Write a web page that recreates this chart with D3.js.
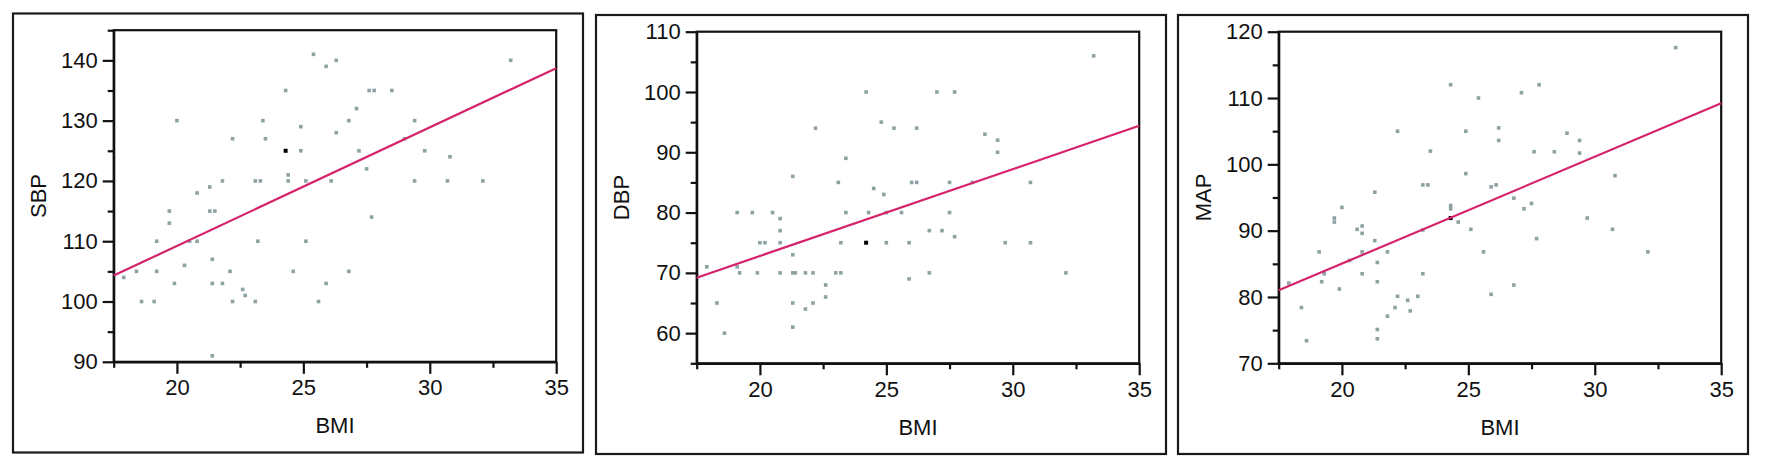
<!DOCTYPE html>
<html>
<head>
<meta charset="utf-8">
<script src="https://cdn.jsdelivr.net/npm/d3@7"></script>
<style>
  body { margin: 0; background: #fff; }
  svg { display: block; }
</style>
</head>
<body>
<div id="display"></div>
<script>
// x axis is BMI for all three panels
const bmiTicks = [20, 25, 30, 35]
const bmiMinor = [17.5, 22.5, 27.5, 32.5]

// SBP vs BMI
const sbpPoints = [[17.9,104],[18.4,105],[18.6,100],[19.1,100],[19.2,105],[19.2,110],[19.7,113],[19.7,115],
  [19.9,103],[20.0,130],[20.3,106],[20.5,110],[20.8,110],[20.8,118],[21.3,119],[21.3,115],[21.5,115],
  [21.4,103],[21.4,107],[21.4,91],[21.8,103],[21.8,120],[22.1,105],[22.2,100],[22.2,127],[22.6,102],
  [22.7,101],[23.1,100],[23.2,110],[23.1,120],[23.3,120],[23.4,130],[23.5,127],[24.3,135],[24.4,121],
  [24.4,120],[24.6,105],[24.9,129],[24.9,125],[25.1,120],[25.1,110],[25.4,141],[25.6,100],[25.9,139],
  [25.9,103],[26.1,120],[26.3,140],[26.3,128],[26.8,130],[26.8,105],[27.1,132],[27.2,125],[27.5,122],
  [27.6,135],[27.7,114],[27.8,135],[28.5,135],[29.0,127],[29.4,130],[29.4,120],[29.8,125],[30.7,120],
  [30.8,124],[32.1,120],[33.2,140]]
const sbpDark = [[24.3,125]]
const sbpFit = [[17.5,104.3],[35,138.7]]
const sbpTicks = [90, 100, 110, 120, 130, 140]
const sbpMinor = [95, 105, 115, 125, 135, 145]

// DBP vs BMI
const dbpPoints = [[17.9,71],[18.3,65],[18.6,60],[19.1,71],[19.2,70],[19.1,80],[19.7,80],[19.9,70],
  [20.0,75],[20.2,75],[20.5,80],[20.8,79],[20.8,77],[20.8,75],[20.8,70],[21.3,86],[21.3,73],[21.3,70],
  [21.4,70],[21.3,65],[21.3,61],[21.8,70],[21.8,64],[22.1,65],[22.1,70],[22.2,94],[22.6,68],[22.6,66],
  [23.0,70],[23.2,70],[23.2,75],[23.1,85],[23.4,89],[23.4,80],[24.2,100],[24.3,80],[24.5,84],[24.8,95],
  [24.9,83],[25.0,80],[25.0,75],[25.3,94],[25.6,80],[25.9,75],[25.9,69],[26.0,85],[26.2,85],[26.2,94],
  [26.7,77],[26.7,70],[27.0,100],[27.2,77],[27.5,85],[27.5,80],[27.7,100],[27.7,76],[28.4,85],[28.9,93],
  [29.4,92],[29.4,90],[29.7,75],[30.7,85],[30.7,75],[32.1,70],[33.2,106]]
const dbpDark = [[24.2,75]]
const dbpFit = [[17.5,69.2],[35,94.4]]
const dbpTicks = [60, 70, 80, 90, 100, 110]
const dbpMinor = [55, 65, 75, 85, 95, 105]

// MAP vs BMI
const mapPoints = [[17.9,82.1],[18.4,78.4],[18.6,73.4],[19.1,86.8],[19.2,82.3],[19.3,83.5],[19.7,91.9],
  [19.7,91.3],[19.9,81.2],[20.0,93.5],[20.3,85.5],[20.6,90.2],[20.8,90.7],[20.8,89.6],[20.8,86.8],
  [20.8,83.5],[21.3,95.8],[21.3,88.5],[21.4,85.2],[21.4,82.3],[21.4,75.1],[21.4,73.7],[21.8,86.8],
  [21.8,77.1],[22.1,78.4],[22.2,80.1],[22.2,105],[22.6,79.5],[22.7,77.9],[23.0,80.1],[23.2,83.5],
  [23.2,90.1],[23.2,96.9],[23.4,96.9],[23.5,102],[24.3,112],[24.3,93.3],[24.3,93.8],[24.6,91.3],
  [24.9,105],[24.9,98.6],[25.1,90.2],[25.4,110],[25.6,86.8],[25.9,96.6],[25.9,80.4],[26.1,96.9],
  [26.2,105.5],[26.2,103.6],[26.8,94.9],[26.8,81.8],[27.1,110.8],[27.2,93.3],[27.5,94.1],[27.6,101.9],
  [27.7,88.8],[27.8,112],[28.4,101.9],[28.9,104.7],[29.4,103.6],[29.4,101.7],[29.7,91.9],[30.7,90.2],
  [30.8,98.3],[32.1,86.8],[33.2,117.6]]
const mapDark = [[24.3,91.9]]
const mapFit = [[17.5,81.0],[35,109.2]]
const mapTicks = [70, 80, 90, 100, 110, 120]
const mapMinor = [75, 85, 95, 105, 115]

const width = 1772, height = 467
const font = "'Liberation Sans', Arial, sans-serif"

const panels = [
  {label: 'SBP', points: sbpPoints, dark: sbpDark, fit: sbpFit, ticks: sbpTicks, minor: sbpMinor, domain: [90, 145], left: 13, top: 13.5},
  {label: 'DBP', points: dbpPoints, dark: dbpDark, fit: dbpFit, ticks: dbpTicks, minor: dbpMinor, domain: [55, 110], left: 596, top: 15},
  {label: 'MAP', points: mapPoints, dark: mapDark, fit: mapFit, ticks: mapTicks, minor: mapMinor, domain: [70, 120], left: 1178, top: 15}
]

const svg = d3.select('#display').append('svg')
    .attr('width', width)
    .attr('height', height)

panels.forEach(p => {
    const g = svg.append('g')
    const x0 = p.left + 100.7, x1 = x0 + 442.5
    const y0 = p.top + 16.7, y1 = p.top + 348.3

    // outer frame
    g.append('rect')
        .attr('x', p.left).attr('y', p.top)
        .attr('width', 570).attr('height', 439)
        .attr('fill', 'none')
        .attr('stroke', '#1a1a1a')
        .attr('stroke-width', 2.2)

    const xScale = d3.scaleLinear().domain([17.5, 35]).range([x0, x1])
    const yScale = d3.scaleLinear().domain(p.domain).range([y1, y0])

    // plot box
    g.append('rect')
        .attr('x', x0).attr('y', y0)
        .attr('width', x1 - x0).attr('height', y1 - y0)
        .attr('fill', 'none')
        .attr('stroke', '#111')
        .attr('stroke-width', 2.2)

    // y axis, major + minor
    g.append('g')
        .attr('transform', 'translate(' + x0 + ',0)')
        .call(d3.axisLeft(yScale).tickValues(p.ticks).tickSize(11).tickPadding(5).tickSizeOuter(0))
    g.append('g')
        .attr('transform', 'translate(' + x0 + ',0)')
        .call(d3.axisLeft(yScale).tickValues(p.minor).tickSize(6).tickFormat('').tickSizeOuter(0))
        .call(a => a.select('.domain').remove())

    // x axis, major + minor
    g.append('g')
        .attr('transform', 'translate(0,' + y1 + ')')
        .call(d3.axisBottom(xScale).tickValues(bmiTicks).tickSize(12).tickPadding(6).tickSizeOuter(0))
    g.append('g')
        .attr('transform', 'translate(0,' + y1 + ')')
        .call(d3.axisBottom(xScale).tickValues(bmiMinor).tickSize(6).tickFormat('').tickSizeOuter(0))
        .call(a => a.select('.domain').remove())

    g.selectAll('.tick line').attr('stroke', '#111').attr('stroke-width', 2.2)
    g.selectAll('.domain').attr('stroke', '#111').attr('stroke-width', 2.2)
    g.selectAll('.tick text')
        .attr('fill', '#111')
        .style('font-family', font)
        .style('font-size', '22px')

    // axis titles
    g.append('text')
        .attr('x', (x0 + x1) / 2)
        .attr('y', p.top + 419.5)
        .attr('text-anchor', 'middle')
        .style('font-family', font)
        .style('font-size', '22px')
        .attr('fill', '#111')
        .text('BMI')

    g.append('text')
        .attr('transform', 'translate(' + (p.left + 33) + ',' + ((y0 + y1) / 2) + ') rotate(-90)')
        .attr('text-anchor', 'middle')
        .style('font-family', font)
        .style('font-size', '22px')
        .attr('fill', '#111')
        .text(p.label)

    // points
    g.selectAll('.pt').data(p.points)
        .enter()
        .append('rect')
            .attr('class', 'pt')
            .attr('x', d => xScale(d[0]) - 1.8)
            .attr('y', d => yScale(d[1]) - 1.8)
            .attr('width', 3.6)
            .attr('height', 3.6)
            .attr('fill', '#8ea2a4')

    g.selectAll('.dk').data(p.dark)
        .enter()
        .append('rect')
            .attr('class', 'dk')
            .attr('x', d => xScale(d[0]) - 2)
            .attr('y', d => yScale(d[1]) - 2)
            .attr('width', 4)
            .attr('height', 4)
            .attr('fill', '#000')

    // fit line
    const line = d3.line()
        .x(d => xScale(d[0]))
        .y(d => yScale(d[1]))
    g.append('path')
        .datum(p.fit)
        .attr('d', line)
        .attr('fill', 'none')
        .attr('stroke', '#d4236a')
        .attr('stroke-width', 2.2)
})
</script>
</body>
</html>
